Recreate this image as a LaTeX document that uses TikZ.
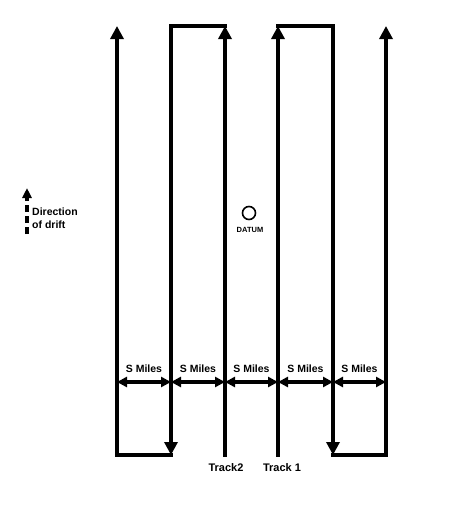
\documentclass[tikz,border=0pt]{standalone}
\usepackage{fontspec}
\setmainfont{Liberation Sans}
\usetikzlibrary{arrows.meta}
\tikzset{
  track/.style={line width=3.2pt, line join=miter, line cap=rect},
  upar/.style={-{Triangle[length=13pt,width=13pt]}},
  dim/.style={line width=3.2pt, {Triangle[length=10pt,width=10pt]}-{Triangle[length=10pt,width=10pt]}},
  lbl/.style={font=\bfseries\fontsize{10.5}{12}\selectfont, inner sep=0pt},
}
\begin{document}
\begin{tikzpicture}[x=1pt,y=-1pt]
\useasboundingbox (0,0) rectangle (467,507);
% coordinates of the lines
\foreach \i/\x in {1/117,2/171,3/225,4/278,5/333,6/386}{
  \coordinate (t\i) at (\x,26);
  \coordinate (b\i) at (\x,455);
  \coordinate (d\i) at (\x,382);
}
% Track 2 pattern (left)
\draw[track,upar] (b3) -- (t3);
\draw[track,upar] (t3) -- (t2) -- (b2);
\draw[track,upar] (b2) -- (b1) -- (t1);
% Track 1 pattern (right)
\draw[track,upar] (b4) -- (t4);
\draw[track,upar] (t4) -- (t5) -- (b5);
\draw[track,upar] (b5) -- (b6) -- (t6);
% spacing dimensions
\foreach \i/\j in {1/2,2/3,3/4,4/5,5/6}{
  \draw[dim] (d\i) -- node[lbl, above=7.5pt] {S Miles} (d\j);
}
% track labels
\node[lbl, font=\bfseries\fontsize{11}{13}\selectfont] (tr2) at (226,468) {Track2};
\node[lbl, font=\bfseries\fontsize{11}{13}\selectfont] (tr1) at (282,468) {Track 1};
% datum
\node[circle, draw, line width=1.6pt, minimum size=13pt, inner sep=0pt] (datum) at (249,213) {};
\node[lbl, font=\bfseries\fontsize{7.5}{9}\selectfont] (datumlbl) at (250,230) {DATUM};
% drift
\coordinate (drifta) at (27,234);
\coordinate (driftb) at (27,188);
\draw[line width=3.2pt, dash pattern=on 7pt off 4pt, -{Triangle[length=10pt,width=9pt]}] (drifta) -- (driftb);
\node[lbl, align=left, anchor=west, font=\bfseries\fontsize{10.5}{13}\selectfont] (driftlbl) at (32,218) {Direction\\of drift};
\end{tikzpicture}
\end{document}
